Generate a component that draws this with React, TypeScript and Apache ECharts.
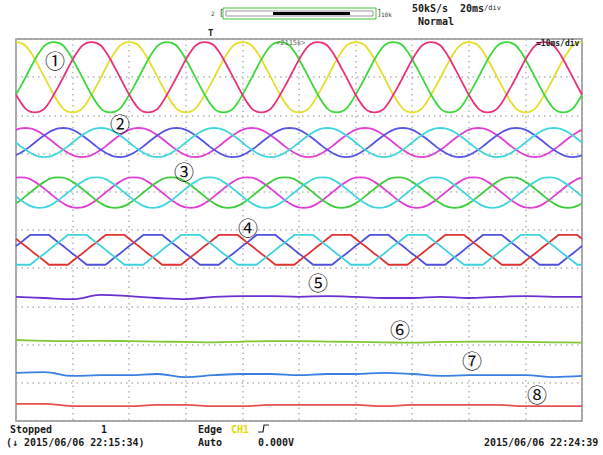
import React, { useEffect, useRef } from "react";
import * as echarts from "echarts";

// ---- time base: 10 divisions, 12 samples per division ----
const SAMPLES_PER_DIV = 12;
const N_DIV = 10;

// one measured period (24 samples, starting at the crest), offsets in divisions
const wave1Cycle = [0.92, 0.9, 0.83, 0.67, 0.47, 0.24, 0.01, -0.23, -0.46, -0.66, -0.82, -0.9, -0.92, -0.9, -0.83, -0.67, -0.46, -0.24, -0.01, 0.23, 0.46, 0.66, 0.82, 0.9];
const wave2Cycle = [0.38, 0.37, 0.33, 0.27, 0.19, 0.1, 0.0, -0.1, -0.19, -0.27, -0.33, -0.37, -0.38, -0.37, -0.33, -0.27, -0.19, -0.1, 0.0, 0.1, 0.19, 0.27, 0.33, 0.37];
const wave3Cycle = [0.4, 0.39, 0.35, 0.28, 0.2, 0.1, 0.0, -0.1, -0.2, -0.28, -0.35, -0.39, -0.4, -0.39, -0.35, -0.28, -0.2, -0.1, 0.0, 0.1, 0.2, 0.28, 0.35, 0.39];
const wave4Cycle = [0.39, 0.39, 0.39, 0.29, 0.19, 0.1, 0.0, -0.1, -0.19, -0.29, -0.39, -0.39, -0.39, -0.39, -0.39, -0.29, -0.19, -0.1, 0.0, 0.1, 0.19, 0.29, 0.39, 0.39];

// group centres (divisions from bottom)
const group1Center = 9.0;
const group2Center = 7.29;
const group3Center = 5.98;
const group4Center = 4.48;

// colours and crest sample positions of each phase
const group1Colors = ["#e4de2c", "#3cd83c", "#e8327a"];
const group1Crests = [0, 8, 16];
const group2Colors = ["#e040d4", "#5656e2", "#40d6dc"];
const group2Crests = [2, 10, 18];
const group3Colors = ["#e040d4", "#3fcc3f", "#40d6dc"];
const group3Crests = [1, 9, 17];
const group4Colors = ["#5050da", "#e03232", "#40d2dc"];
const group4Crests = [5, 21, 13];

// slow traces sampled every half division (0 .. 10)
const trace5 = [3.25, 3.22, 3.19, 3.3, 3.27, 3.22, 3.19, 3.25, 3.27, 3.27, 3.25, 3.27, 3.25, 3.22, 3.22, 3.25, 3.22, 3.25, 3.27, 3.25, 3.25];
const trace6 = [2.12, 2.1, 2.09, 2.1, 2.09, 2.08, 2.07, 2.06, 2.08, 2.09, 2.09, 2.08, 2.07, 2.06, 2.05, 2.07, 2.08, 2.08, 2.07, 2.06, 2.05];
const trace7 = [1.26, 1.28, 1.18, 1.2, 1.2, 1.23, 1.15, 1.2, 1.23, 1.23, 1.2, 1.23, 1.23, 1.26, 1.23, 1.18, 1.2, 1.2, 1.2, 1.15, 1.18];
const trace8 = [0.45, 0.45, 0.39, 0.39, 0.39, 0.42, 0.42, 0.39, 0.39, 0.42, 0.42, 0.42, 0.42, 0.39, 0.42, 0.42, 0.42, 0.42, 0.39, 0.39, 0.39];
const trace5Color = "#6a30d2";
const trace6Color = "#82c832";
const trace7Color = "#3a80e2";
const trace8Color = "#e85050";

const labels = ["①", "②", "③", "④", "⑤", "⑥", "⑦", "⑧"];

function periodicSeries(center: number, cycle: number[], crest: number, color: string, smooth: boolean) {
  const n = cycle.length;
  const data: number[][] = [];
  for (let i = 0; i <= SAMPLES_PER_DIV * N_DIV; i++) {
    const k = (((i - crest) % n) + n) % n;
    data.push([i / SAMPLES_PER_DIV, center + cycle[k]]);
  }
  return {
    type: "line",
    data,
    showSymbol: false,
    smooth: smooth ? 0.3 : false,
    lineStyle: { color, width: 1.8 },
    silent: true,
  };
}

function slowSeries(values: number[], color: string) {
  return {
    type: "line",
    data: values.map((v, i) => [i * 0.5, v]),
    showSymbol: false,
    smooth: 0.4,
    lineStyle: { color, width: 1.8 },
    silent: true,
  };
}

const MONO = '"DejaVu Sans Mono", monospace';

function txt(x: number, y: number, text: string, size = 10, fill = "#1a1a1a", extra: any = {}) {
  return {
    type: "text",
    x,
    y,
    style: { text, fill, fontSize: size, fontFamily: MONO, verticalAlign: "middle", align: "left", ...extra },
    z: 100,
  };
}

export default function App() {
  const ref = useRef<HTMLDivElement>(null);
  useEffect(() => {
    if (!ref.current) return;
    const chart = echarts.init(ref.current, null, { renderer: "svg" });
    const series: any[] = [];
    group1Colors.forEach((c, j) => series.push(periodicSeries(group1Center, wave1Cycle, group1Crests[j], c, true)));
    group2Colors.forEach((c, j) => series.push(periodicSeries(group2Center, wave2Cycle, group2Crests[j], c, true)));
    group3Colors.forEach((c, j) => series.push(periodicSeries(group3Center, wave3Cycle, group3Crests[j], c, true)));
    group4Colors.forEach((c, j) => series.push(periodicSeries(group4Center, wave4Cycle, group4Crests[j], c, false)));
    series.push(slowSeries(trace5, trace5Color));
    series.push(slowSeries(trace6, trace6Color));
    series.push(slowSeries(trace7, trace7Color));
    series.push(slowSeries(trace8, trace8Color));

    const labelPos = [
      [55, 60], [120, 123], [184, 171], [248, 227], [318, 282], [400, 329], [472, 360], [537, 394],
    ];
    const circled = labels.map((t, i) => ({
      type: "text",
      x: labelPos[i][0],
      y: labelPos[i][1],
      style: {
        text: t,
        fill: "#111",
        fontSize: 20,
        fontFamily: '"Noto Sans CJK JP", sans-serif',
        align: "center",
        verticalAlign: "middle",
      },
      z: 100,
    }));

    const axisCommon = {
      type: "value",
      min: 0,
      max: 10,
      interval: 1,
      axisLabel: { show: false },
      axisTick: { show: false },
      axisLine: { show: false },
      splitLine: { show: true, lineStyle: { color: "#b5b5b5", type: [1.5, 4], width: 1.5 } },
    };

    chart.setOption({
      animation: false,
      backgroundColor: "#ffffff",
      grid: { left: 16, top: 39, width: 566, height: 382, show: true, borderColor: "#8a8a8a", borderWidth: 1.5 },
      xAxis: axisCommon,
      yAxis: axisCommon,
      series,
      graphic: [
        // zoom bar
        { type: "rect", shape: { x: 223, y: 8, width: 153, height: 11 }, style: { fill: "#fff", stroke: "#3cc83c", lineWidth: 1 }, z: 100 },
        { type: "rect", shape: { x: 226, y: 11, width: 147, height: 5 }, style: { fill: "#fff", stroke: "#999", lineWidth: 1 }, z: 101 },
        { type: "rect", shape: { x: 273, y: 12, width: 77, height: 3 }, style: { fill: "#000" }, z: 102 },
        txt(211, 13, "2", 6, "#444"),
        txt(219, 13, "[", 8, "#444"),
        txt(377, 13, "]", 8, "#444"),
        txt(381, 14, "10k", 6, "#444"),
        txt(412, 8, "50kS/s", 10, "#1a1a1a", { fontWeight: "bold" }),
        {
          type: "text",
          x: 460,
          y: 8,
          style: {
            text: "{a|20ms}{b|/div}",
            rich: {
              a: { fontSize: 10, fontFamily: MONO, fill: "#1a1a1a", fontWeight: "bold" },
              b: { fontSize: 7, fontFamily: MONO, fill: "#1a1a1a" },
            },
            verticalAlign: "middle",
          },
          z: 100,
        },
        txt(418, 21, "Normal", 10, "#1a1a1a", { fontWeight: "bold" }),
        txt(208, 33, "T", 9, "#222", { fontWeight: "bold" }),
        txt(276, 43, "<2115k>", 7, "#666"),
        txt(536, 43, "=10ms/div", 8, "#222", { fontWeight: "bold" }),
        // bottom status
        txt(10, 429, "Stopped", 10, "#1a1a1a", { fontWeight: "bold" }),
        txt(101, 429, "1", 10, "#1a1a1a", { fontWeight: "bold" }),
        txt(198, 429, "Edge", 10, "#1a1a1a", { fontWeight: "bold" }),
        txt(231, 429, "CH1", 10, "#e2da00", { fontWeight: "bold" }),
        {
          type: "polyline",
          shape: { points: [[258, 432], [263, 432], [264, 425], [269, 425]] },
          style: { stroke: "#222", lineWidth: 1.2, fill: null },
          z: 100,
        },
        txt(6, 442, "(↓ 2015/06/06 22:15:34)", 10, "#1a1a1a", { fontWeight: "bold" }),
        txt(198, 442, "Auto", 10, "#1a1a1a", { fontWeight: "bold" }),
        txt(258, 442, "0.000V", 10, "#1a1a1a", { fontWeight: "bold" }),
        txt(484, 442, "2015/06/06 22:24:39", 10, "#1a1a1a", { fontWeight: "bold" }),
        ...circled,
      ],
    });
    return () => chart.dispose();
  }, []);
  return (
    <div
      ref={ref}
      style={{ position: "fixed", left: 0, top: 0, width: 603, height: 455, background: "#fff" }}
    />
  );
}
